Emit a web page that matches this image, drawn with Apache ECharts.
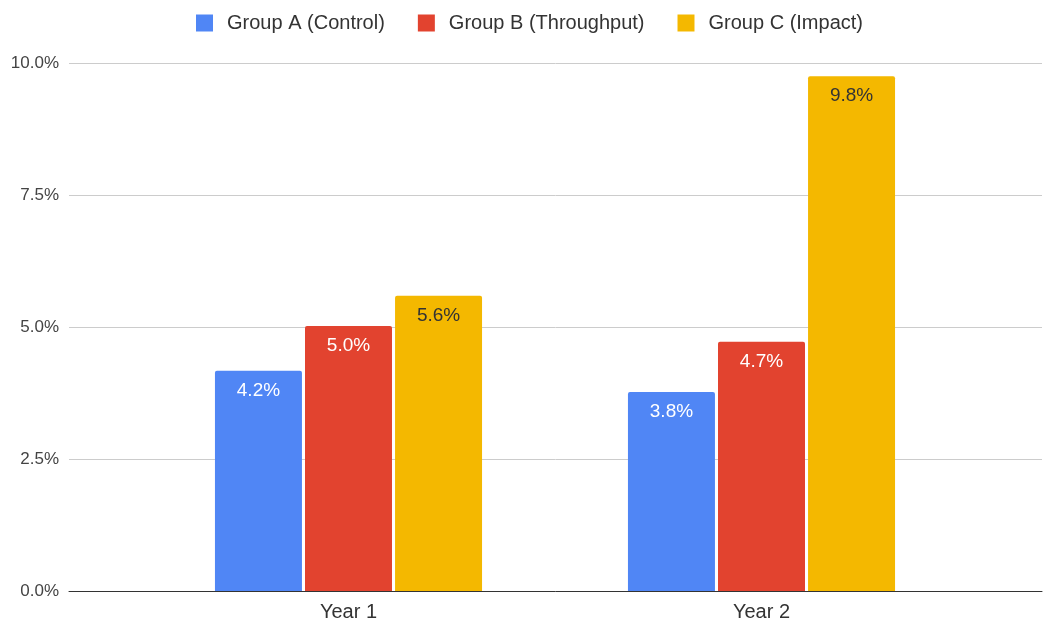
<!DOCTYPE html>
<html><head><meta charset="utf-8">
<script src="https://cdn.jsdelivr.net/npm/echarts@6/dist/echarts.min.js"></script>
<style>html,body{margin:0;padding:0;background:#fff}#c{width:1059px;height:637px}</style>
</head><body><div id="c"></div>
<script>
const categories = ['Year 1', 'Year 2'];
const seriesNames = ['Group A (Control)', 'Group B (Throughput)', 'Group C (Impact)'];
const groupA = [4.17, 3.77];
const groupB = [5.02, 4.72];
const groupC = [5.59, 9.75];
const yTicks = [0, 2.5, 5, 7.5, 10];

const colors = ['#5086f5', '#e2432f', '#f4b800'];
const labelColors = ['#ffffff', '#ffffff', '#333333'];
const font = '"Liberation Sans", Arial, sans-serif';
const values = [groupA, groupB, groupC];

const chart = echarts.init(document.getElementById('c'));
chart.setOption({
  animation: false,
  textStyle: { fontFamily: font },
  legend: {
    top: 8, left: 'center', itemWidth: 17, itemHeight: 17, itemGap: 33,
    icon: 'rect',
    textStyle: { fontSize: 20, color: '#333', fontFamily: font, padding: [0, 0, 0, 9] },
    data: seriesNames
  },
  grid: [
    { left: 69, right: 17, top: 63, bottom: 46 },
    { left: 142, right: 91, top: 63, bottom: 46 }
  ],
  xAxis: [
    { type: 'category', gridIndex: 0, data: [''], axisLine: { lineStyle: { color: '#333', width: 1 } },
      axisTick: { show: false }, axisLabel: { show: false }, z: 5 },
    { type: 'category', gridIndex: 1, data: categories, axisLine: { show: false },
      axisTick: { show: false },
      axisLabel: { fontSize: 20, color: '#333', margin: 11, fontFamily: font } }
  ],
  yAxis: [
    { type: 'value', gridIndex: 0, min: yTicks[0], max: yTicks[yTicks.length - 1], interval: 2.5,
      axisLine: { show: false }, axisTick: { show: false },
      axisLabel: { fontSize: 17, color: '#444', margin: 10, formatter: v => v.toFixed(1) + '%', fontFamily: font },
      splitLine: { lineStyle: { color: '#cccccc' } } },
    { type: 'value', gridIndex: 1, min: yTicks[0], max: yTicks[yTicks.length - 1], interval: 2.5,
      axisLine: { show: false }, axisTick: { show: false }, axisLabel: { show: false }, splitLine: { show: false } }
  ],
  series: seriesNames.map((name, i) => ({
    name, type: 'bar', xAxisIndex: 1, yAxisIndex: 1,
    data: values[i], barWidth: 87, barGap: '3.5%',
    itemStyle: { color: colors[i], borderRadius: [2, 2, 0, 0] },
    label: { show: true, position: 'insideTop', distance: 10, fontSize: 19,
      color: labelColors[i], fontFamily: font,
      formatter: p => p.value.toFixed(1) + '%' }
  }))
});
</script></body></html>
